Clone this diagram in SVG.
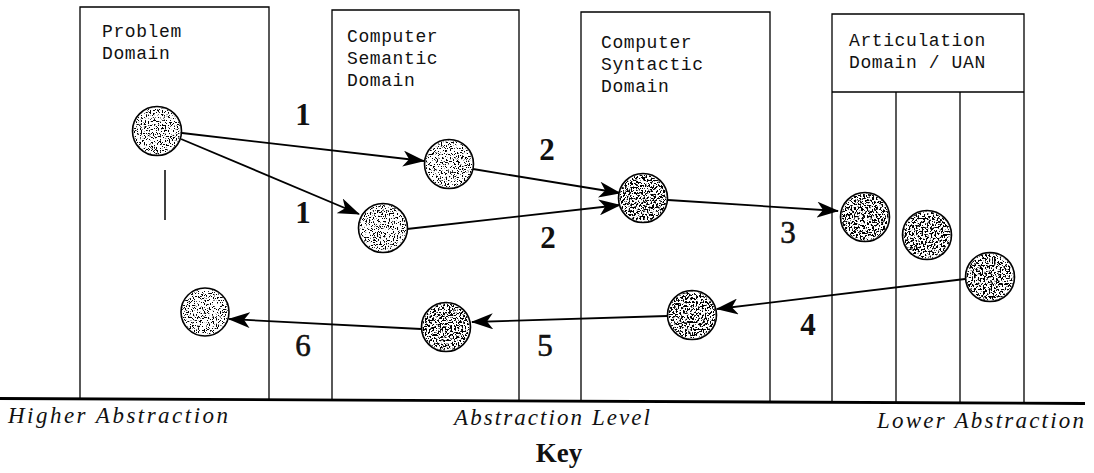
<svg xmlns="http://www.w3.org/2000/svg" width="1094" height="473" viewBox="0 0 1094 473">
<style>
.box{fill:none;stroke:#000;stroke-width:1.3}
.mono{font-family:"Liberation Mono","Courier New",monospace;font-size:18px;letter-spacing:0.6px;fill:#111}
.num{font-family:"Liberation Serif","Times New Roman",serif;font-size:31px;font-weight:bold;fill:#111;text-anchor:middle}
.numr{font-family:"Liberation Serif","Times New Roman",serif;font-size:31px;fill:#111;text-anchor:middle;stroke:#111;stroke-width:0.6}
.ital{font-family:"Liberation Serif","Times New Roman",serif;font-size:23px;font-style:italic;fill:#111}
.key{font-family:"Liberation Serif","Times New Roman",serif;font-size:27px;font-weight:bold;fill:#111;text-anchor:middle}
.conn{fill:none;stroke:#000;stroke-width:1.8;marker-end:url(#ah)}
.ring{fill:#fff;stroke:#000;stroke-width:1.6}
.dotL{fill:#000;filter:url(#stipL)}
.dotD{fill:#000;filter:url(#stipD)}
</style>
<defs>
<marker id="ah" markerUnits="userSpaceOnUse" viewBox="0 0 22 16" markerWidth="22" markerHeight="16" refX="21" refY="8" orient="auto">
<path d="M0,0 L22,8 L0,16 L6,8 Z" fill="#000"/>
</marker>
<filter id="stipL" x="-5%" y="-5%" width="110%" height="110%">
<feTurbulence type="fractalNoise" baseFrequency="0.75" numOctaves="2" seed="4" result="n"/>
<feColorMatrix in="n" type="matrix" values="0 0 0 0 0  0 0 0 0 0  0 0 0 0 0  16 0 0 0 -8.9" result="d"/>
<feComposite in="d" in2="SourceGraphic" operator="in"/>
</filter>
<filter id="stipD" x="-5%" y="-5%" width="110%" height="110%">
<feTurbulence type="fractalNoise" baseFrequency="0.55" numOctaves="2" seed="9" result="n"/>
<feColorMatrix in="n" type="matrix" values="0 0 0 0 0  0 0 0 0 0  0 0 0 0 0  16 0 0 0 -8.1" result="d"/>
<feComposite in="d" in2="SourceGraphic" operator="in"/>
</filter>
</defs>
<rect width="1094" height="473" fill="#fff"/>

<g id="problem-domain">
<path class="box" d="M80,399 L80,7 L269,7 L269,399"/>
<text class="mono" x="102" y="37">Problem</text>
<text class="mono" x="102" y="59">Domain</text>
<line x1="165" y1="170" x2="165" y2="220" stroke="#000" stroke-width="1.5"/>
</g>
<g id="semantic-domain">
<path class="box" d="M332,400 L332,10 L519,10 L519,401"/>
<text class="mono" x="347" y="42">Computer</text>
<text class="mono" x="347" y="64">Semantic</text>
<text class="mono" x="347" y="86">Domain</text>
</g>
<g id="syntactic-domain">
<path class="box" d="M581,401 L581,12 L770,12 L770,402"/>
<text class="mono" x="601" y="48">Computer</text>
<text class="mono" x="601" y="70">Syntactic</text>
<text class="mono" x="601" y="92">Domain</text>
</g>
<g id="articulation-domain">
<path class="box" d="M832,402 L832,14 L1024,14 L1024,403"/>
<line class="box" x1="832" y1="92" x2="1024" y2="92"/>
<line class="box" x1="896" y1="92" x2="896" y2="403"/>
<line class="box" x1="960" y1="92" x2="960" y2="403"/>
<text class="mono" x="849" y="46">Articulation</text>
<text class="mono" x="849" y="68">Domain / UAN</text>
</g>

<g id="axis">
<line x1="0" y1="398.5" x2="1085" y2="403.5" stroke="#000" stroke-width="2.8"/>
<text class="ital" x="8" y="423" textLength="220" lengthAdjust="spacing">Higher Abstraction</text>
<text class="ital" x="454" y="425" textLength="196" lengthAdjust="spacing">Abstraction Level</text>
<text class="ital" x="877" y="428" textLength="207" lengthAdjust="spacing">Lower Abstraction</text>
<text class="key" x="559" y="462">Key</text>
</g>

<g id="connectors">
<line class="conn" x1="182" y1="133" x2="424" y2="161"/>
<line class="conn" x1="181" y1="139" x2="359" y2="214"/>
<line class="conn" x1="473" y1="169" x2="620" y2="193"/>
<line class="conn" x1="407" y1="229" x2="620" y2="205"/>
<line class="conn" x1="668" y1="200" x2="838" y2="211"/>
<line class="conn" x1="965" y1="279" x2="717" y2="309"/>
<line class="conn" x1="667" y1="316" x2="472" y2="322"/>
<line class="conn" x1="421" y1="329" x2="229" y2="319"/>
</g>

<g id="labels">
<text class="num" x="303" y="125">1</text>
<text class="num" x="303" y="223">1</text>
<text class="num" x="547" y="160">2</text>
<text class="num" x="548" y="248">2</text>
<text class="numr" x="788" y="243">3</text>
<text class="num" x="808" y="335">4</text>
<text class="numr" x="545" y="356">5</text>
<text class="numr" x="303" y="356">6</text>
</g>

<g id="node-p1"><circle class="ring" cx="157" cy="131" r="24.5"/><circle class="dotL" cx="157" cy="131" r="23.5"/></g>
<g id="node-s1"><circle class="ring" cx="449" cy="164" r="24.5"/><circle class="dotL" cx="449" cy="164" r="23.5"/></g>
<g id="node-s2"><circle class="ring" cx="383" cy="228" r="24.5"/><circle class="dotL" cx="383" cy="228" r="23.5"/></g>
<g id="node-syn1"><circle class="ring" cx="643" cy="198" r="24.5"/><circle class="dotD" cx="643" cy="198" r="23.5"/></g>
<g id="node-a1"><circle class="ring" cx="865" cy="217" r="24.5"/><circle class="dotD" cx="865" cy="217" r="23.5"/></g>
<g id="node-a2"><circle class="ring" cx="927" cy="235" r="24.5"/><circle class="dotD" cx="927" cy="235" r="23.5"/></g>
<g id="node-a3"><circle class="ring" cx="990" cy="277" r="24.5"/><circle class="dotD" cx="990" cy="277" r="23.5"/></g>
<g id="node-syn2"><circle class="ring" cx="692" cy="315" r="24.5"/><circle class="dotD" cx="692" cy="315" r="23.5"/></g>
<g id="node-s3"><circle class="ring" cx="446" cy="327" r="24.5"/><circle class="dotD" cx="446" cy="327" r="23.5"/></g>
<g id="node-p2"><circle class="ring" cx="205" cy="312" r="24"/><circle class="dotL" cx="205" cy="312" r="23"/></g>
</svg>
